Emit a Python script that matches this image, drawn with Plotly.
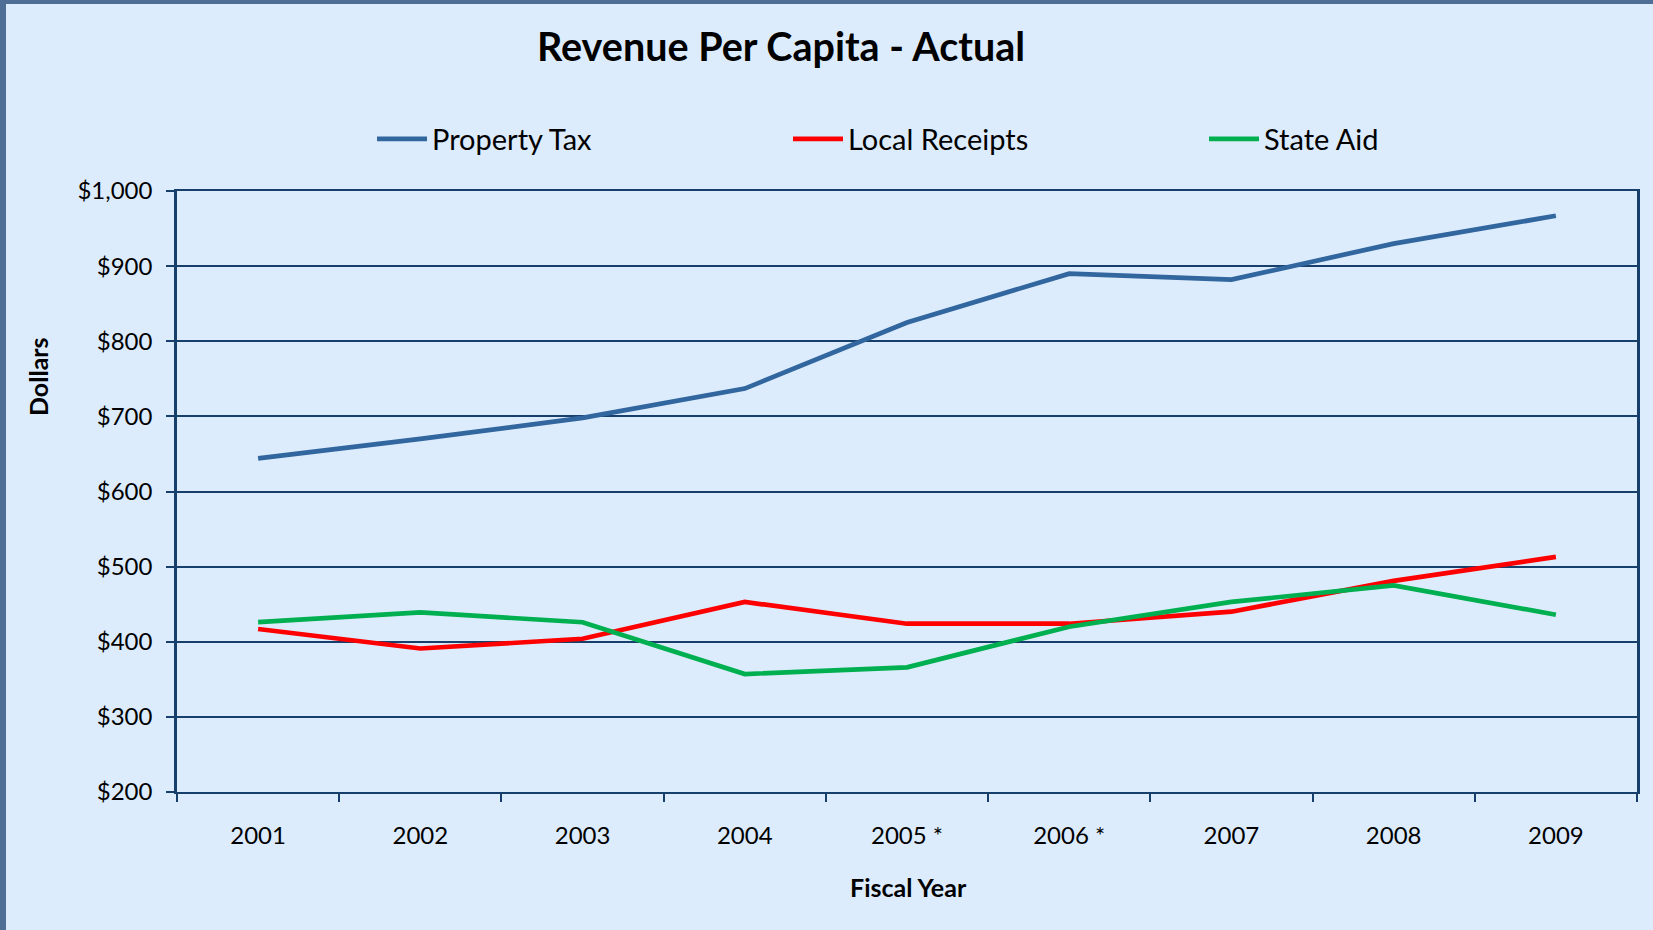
import plotly.graph_objects as go

# Fiscal years and per-capita revenue by source (dollars)
years = ["2001", "2002", "2003", "2004", "2005 *", "2006 *", "2007", "2008", "2009"]
property_tax = [644, 670, 698, 737, 825, 890, 882, 930, 967]
local_receipts = [417, 391, 404, 453, 424, 424, 440, 481, 513]
state_aid = [426, 439, 426, 357, 366, 420, 453, 475, 436]

y_ticks = [200, 300, 400, 500, 600, 700, 800, 900, 1000]
y_tick_labels = ["$200", "$300", "$400", "$500", "$600", "$700", "$800", "$900", "$1,000"]

W, H = 1653, 930
L, R, T, B = 177, 16, 191, 138
PW, PH = W - L - R, H - T - B

BG = "#DCECFD"
FRAME = "#4E6E95"
AXIS = "#173F6C"
FONT = "Lato"


def px_x(p):
    return (p - L) / PW


def px_y(p):
    return (H - B - p) / PH


fig = go.Figure()
for name, vals, color in [
    ("Property Tax", property_tax, "#31669E"),
    ("Local Receipts", local_receipts, "#FF0000"),
    ("State Aid", state_aid, "#00B050"),
]:
    fig.add_trace(go.Scatter(
        x=years, y=vals, name=name, mode="lines",
        line=dict(color=color, width=4.7),
    ))

fig.update_layout(
    width=W, height=H,
    margin=dict(l=L, r=R, t=T, b=B),
    paper_bgcolor=BG, plot_bgcolor=BG,
    font=dict(family=FONT, color="#000000", size=24),
    title=dict(
        text="<b>Revenue Per Capita - Actual</b>",
        x=781 / W, xref="container", xanchor="center",
        y=1 - 47 / H, yref="container", yanchor="middle",
        font=dict(family=FONT, size=39.5, color="#000000"),
    ),
    legend=dict(
        orientation="h",
        x=px_x(372), xanchor="left",
        y=px_y(139), yanchor="middle",
        entrywidth=351, entrywidthmode="pixels",
        font=dict(family=FONT, size=29),
        bgcolor="rgba(0,0,0,0)",
        itemwidth=50,
    ),
    xaxis=dict(
        type="category",
        range=[-0.5, len(years) - 0.5],
        tickson="boundaries",
        ticks="outside", ticklen=8, tickwidth=2, tickcolor=AXIS,
        showline=True, linecolor=AXIS, linewidth=2, mirror=True,
        showgrid=False, zeroline=False,
        tickfont=dict(family=FONT, size=24),
        ticklabelstandoff=21,
    ),
    yaxis=dict(
        range=[200, 1000],
        tickvals=y_ticks,
        ticktext=y_tick_labels,
        ticks="outside", ticklen=8, tickwidth=2, tickcolor=AXIS,
        showline=True, linecolor=AXIS, linewidth=2.5, mirror=True,
        showgrid=True, gridcolor=AXIS, gridwidth=2,
        zeroline=False,
        tickfont=dict(family=FONT, size=24),
        ticklabelstandoff=9,
    ),
    annotations=[
        dict(text="<b>Dollars</b>", xref="paper", yref="paper",
             x=px_x(38), y=px_y(377), textangle=-90, showarrow=False,
             xanchor="center", yanchor="middle",
             font=dict(family=FONT, size=25)),
        dict(text="<b>Fiscal Year</b>", xref="paper", yref="paper",
             x=px_x(908), y=px_y(887), showarrow=False,
             xanchor="center", yanchor="middle",
             font=dict(family=FONT, size=25)),
    ],
    shapes=[
        # slide frame along the left and top edges
        dict(type="rect", xref="paper", yref="paper",
             x0=px_x(0), x1=px_x(6), y0=px_y(H), y1=px_y(0),
             fillcolor=FRAME, line=dict(width=0), layer="below"),
        dict(type="rect", xref="paper", yref="paper",
             x0=px_x(0), x1=px_x(W), y0=px_y(4), y1=px_y(0),
             fillcolor=FRAME, line=dict(width=0), layer="below"),
    ],
)

fig.write_html("out.html")
